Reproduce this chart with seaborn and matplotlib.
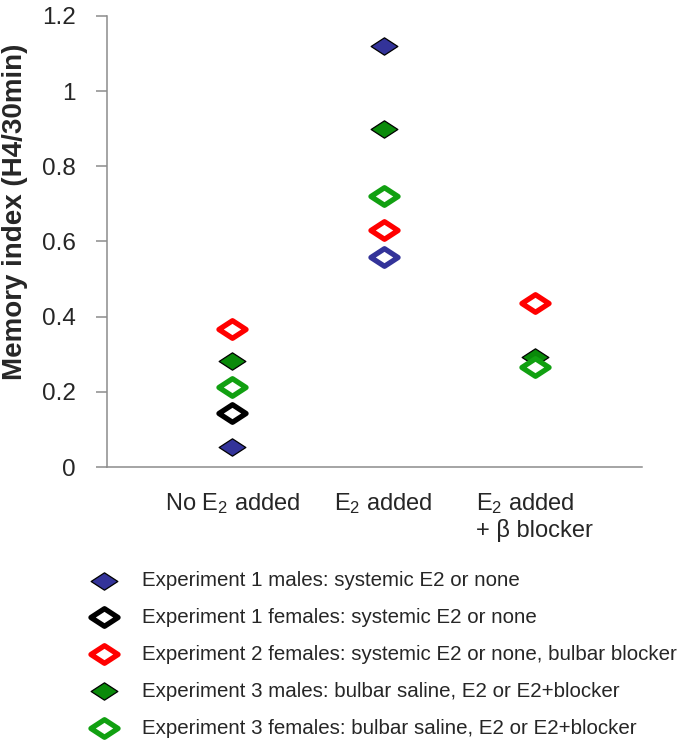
import numpy as np
import pandas as pd
import seaborn as sns
import matplotlib.pyplot as plt
from matplotlib.path import Path
from matplotlib.ticker import FuncFormatter

# --- data ---
categories = ["No E$_2$ added", "E$_2$ added", "E$_2$ added\n+ β blocker"]

exp1_males = [0.053, 1.12, np.nan]
exp1_females = [0.144, np.nan, np.nan]
exp1_females_e2 = [np.nan, 0.56, np.nan]   # drawn in blue outline in the original
exp2_females = [0.367, 0.631, 0.436]
exp3_males = [0.281, 0.90, 0.294]
exp3_females = [0.213, 0.722, 0.266]

labels = [
    "Experiment 1 males: systemic E2 or none",
    "Experiment 1 females: systemic E2 or none",
    "Experiment 2 females: systemic E2 or none, bulbar blocker",
    "Experiment 3 males: bulbar saline, E2 or E2+blocker",
    "Experiment 3 females: bulbar saline, E2 or E2+blocker",
]

# --- style ---
sns.set_style("white")
plt.rcParams["font.family"] = ["Liberation Sans", "DejaVu Sans"]
plt.rcParams["mathtext.fontset"] = "custom"
plt.rcParams["mathtext.rm"] = "Liberation Sans"
plt.rcParams["mathtext.it"] = "Liberation Sans:italic"

diamond = Path([(-1, 0), (0, 0.65), (1, 0), (0, -0.65), (-1, 0)], closed=True)

navy = "#333399"
red = "#ff0000"
dgreen = "#0a8a0a"
lgreen = "#11a011"

fig = plt.figure(figsize=(6.78, 7.4), dpi=100)
ax = fig.add_axes([107 / 678, 1 - 467 / 740, 535 / 678, 451 / 740])

x = np.arange(len(categories))


def filled(vals, col, label):
    sns.scatterplot(x=x, y=vals, ax=ax, marker=diamond, s=370,
                    color=col, edgecolor="black", linewidth=0.9,
                    label=label, zorder=3)


def hollow(vals, col, label):
    sns.scatterplot(x=x, y=vals, ax=ax, marker=diamond, s=380,
                    color=col, facecolor="white", edgecolor=col,
                    linewidth=3.8, joinstyle="round", label=label, zorder=3)


filled(exp1_males, navy, labels[0])
hollow(exp1_females, "black", labels[1])
hollow(exp2_females, red, labels[2])
filled(exp3_males, dgreen, labels[3])
hollow(exp3_females, lgreen, labels[4])
hollow(exp1_females_e2, navy, "_nolegend_")

# --- axes ---
ax.set_xlim(-0.83, 2.71)
ax.set_ylim(0, 1.2)
ax.set_yticks(np.arange(0, 1.21, 0.2))
ax.yaxis.set_major_formatter(FuncFormatter(lambda v, p: f"{v:g}"))
ax.set_xticks(x)
ax.set_xticklabels(categories)
ax.get_xticklabels()[2].set_multialignment("left")

for side in ["top", "right"]:
    ax.spines[side].set_visible(False)
for side in ["left", "bottom"]:
    ax.spines[side].set_color("#8c8c8c")
    ax.spines[side].set_linewidth(1.1)

ax.tick_params(axis="y", which="major", left=True, length=7.7, width=1.1,
               color="#8c8c8c", labelsize=17.5, pad=15)
ax.tick_params(axis="x", which="major", bottom=False, length=0,
               labelsize=17, pad=17)

ax.set_ylabel("Memory index (H4/30min)", fontsize=20, fontweight="bold")
ax.yaxis.set_label_coords(-0.148, 0.565)
ax.set_xlabel("")

# --- legend below the plot ---
handles, labs = ax.get_legend_handles_labels()
ax.legend_.remove()
fig.legend(handles, labs, loc="upper left", bbox_to_anchor=(83 / 678, 1 - 571 / 740),
           frameon=False, fontsize=14.8, borderpad=0, handlelength=2,
           handletextpad=0.85, labelspacing=0.87, scatterpoints=1,
           borderaxespad=0)

fig.savefig("out.png", dpi=100)
